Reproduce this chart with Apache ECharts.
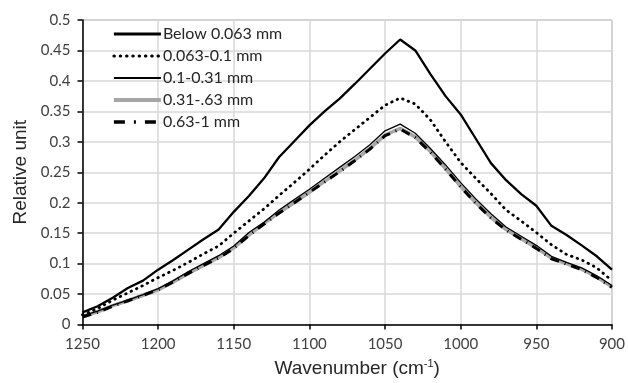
<!DOCTYPE html>
<html><head><meta charset="utf-8">
<script src="https://cdn.jsdelivr.net/npm/echarts@6/dist/echarts.min.js"></script>
<style>html,body{margin:0;padding:0;background:#fff}#c{width:628px;height:383px}</style>
</head><body><div id="c"></div>
<script>
const wavenumbers = [1250,1240,1230,1220,1210,1200,1190,1180,1170,1160,1150,1140,1130,1120,1110,1100,1090,1080,1070,1060,1050,1040,1030,1020,1010,1000,990,980,970,960,950,940,930,920,910,900];
const below0063 = [0.020,0.030,0.044,0.060,0.072,0.090,0.106,0.123,0.140,0.156,0.185,0.211,0.240,0.275,0.301,0.327,0.350,0.371,0.395,0.420,0.445,0.468,0.450,0.411,0.375,0.345,0.305,0.265,0.237,0.214,0.195,0.162,0.147,0.130,0.112,0.090];
const s0063_01 = [0.016,0.026,0.040,0.052,0.064,0.077,0.089,0.102,0.116,0.129,0.150,0.170,0.190,0.212,0.233,0.255,0.278,0.300,0.320,0.340,0.360,0.372,0.362,0.336,0.300,0.266,0.240,0.215,0.188,0.170,0.151,0.131,0.115,0.106,0.093,0.072];
const s01_031 = [0.014,0.022,0.032,0.040,0.049,0.059,0.072,0.087,0.100,0.113,0.129,0.151,0.168,0.188,0.205,0.222,0.240,0.258,0.276,0.295,0.318,0.329,0.314,0.289,0.262,0.233,0.206,0.182,0.160,0.145,0.130,0.112,0.102,0.093,0.080,0.064];
const s031_063 = [0.013,0.021,0.031,0.039,0.048,0.057,0.070,0.084,0.097,0.110,0.126,0.147,0.166,0.184,0.200,0.217,0.235,0.252,0.270,0.289,0.311,0.322,0.308,0.284,0.256,0.227,0.200,0.176,0.156,0.141,0.126,0.109,0.100,0.091,0.078,0.062];
const s063_1 = [0.012,0.020,0.030,0.039,0.048,0.057,0.070,0.084,0.097,0.109,0.125,0.146,0.165,0.183,0.200,0.217,0.234,0.251,0.269,0.288,0.310,0.321,0.307,0.283,0.255,0.226,0.199,0.175,0.155,0.140,0.125,0.108,0.099,0.090,0.077,0.061];
const seriesNames = ['Below 0.063 mm','0.063-0.1 mm','0.1-0.31 mm','0.31-.63 mm','0.63-1 mm'];
const xTicks = [1250,1200,1150,1100,1050,1000,950,900];
const yTicks = [0,0.05,0.1,0.15,0.2,0.25,0.3,0.35,0.4,0.45,0.5];

const pairs = arr => wavenumbers.map((w,i)=>[w,arr[i]]);
const FONT = 'Lato';
const TFONT = 'Liberation Sans';
const styles = [
  {color:'#000',width:2.3},
  {color:'#000',width:2.8,type:[0.5,5.5],cap:'round'},
  {color:'#000',width:1.3},
  {color:'#a6a6a6',width:3.6},
  {color:'#000',width:3,type:[9,6,1,6],cap:'butt'}
];
const legendStyles = [
  {color:'#000',width:3},
  {color:'#000',width:3,type:[0.5,5.8],cap:'round'},
  {color:'#000',width:1.8},
  {color:'#a6a6a6',width:3.8},
  {color:'#000',width:3.6,type:[11,9,2,9],cap:'butt'}
];
const zs = [5,5,6,3,4];
const chart = echarts.init(document.getElementById('c'), null, {renderer:'canvas'});
chart.setOption({
  animation:false,
  backgroundColor:'#fff',
  grid:{left:82.5,right:13,top:20,bottom:57,show:true,borderColor:'#868686',borderWidth:1},
  legend:{
    orient:'vertical',left:112,top:26,padding:0,itemWidth:47,itemHeight:14,itemGap:6,
    itemStyle:{opacity:0},
    textStyle:{fontFamily:FONT,fontSize:16,color:'#262626',padding:[0,0,0,-3]},
    data:seriesNames.map((n,i)=>({name:n,lineStyle:legendStyles[i]}))
  },
  xAxis:{
    type:'value',inverse:true,min:xTicks[xTicks.length-1],max:xTicks[0],interval:50,
    name:'Wavenumber (cm{sup|-1})',nameLocation:'middle',nameGap:34,
    nameTextStyle:{fontFamily:TFONT,fontSize:19,color:'#262626',padding:[0,0,0,20],rich:{sup:{fontFamily:TFONT,fontSize:11,color:'#262626',verticalAlign:'top',padding:[0,0,9,0]}}},
    axisLine:{show:true,lineStyle:{color:'#000',width:1.5}},
    axisTick:{show:true,length:5,lineStyle:{color:'#000',width:1.5}},
    axisLabel:{fontFamily:FONT,fontSize:15,color:'#404040',margin:12,formatter:v=>String(v)},
    splitLine:{show:true,lineStyle:{color:'#d9d9d9',width:1.5}}
  },
  yAxis:{
    type:'value',min:yTicks[0],max:yTicks[yTicks.length-1],interval:0.05,
    name:'Relative unit',nameLocation:'middle',nameGap:52,
    nameTextStyle:{fontFamily:TFONT,fontSize:19,color:'#262626'},
    axisLine:{show:true,lineStyle:{color:'#000',width:1.5}},
    axisTick:{show:true,length:5,lineStyle:{color:'#000',width:1.5}},
    axisLabel:{fontFamily:FONT,fontSize:15,color:'#404040',margin:12,formatter:v=>String(+v.toFixed(2))},
    splitLine:{show:true,lineStyle:{color:'#d9d9d9',width:1.5}}
  },
  series:[below0063,s0063_01,s01_031,s031_063,s063_1].map((arr,i)=>({
    name:seriesNames[i],type:'line',data:pairs(arr),symbol:'none',z:zs[i],lineStyle:styles[i]
  }))
});
</script></body></html>
